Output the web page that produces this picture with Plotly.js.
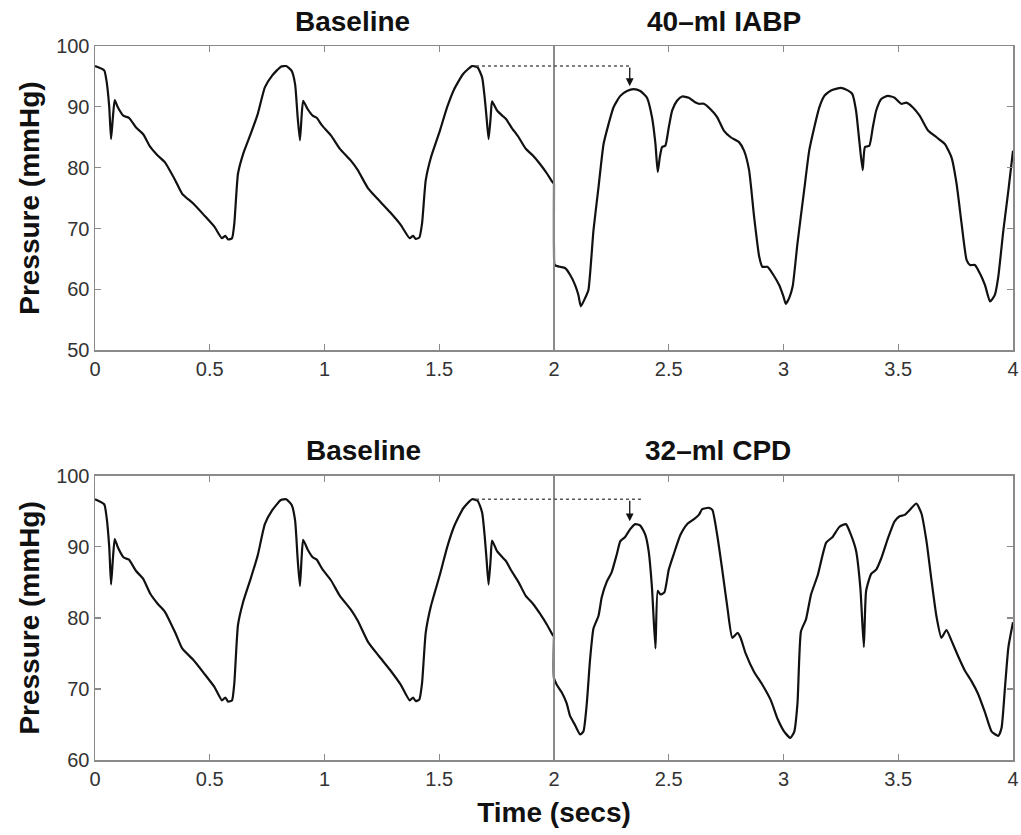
<!DOCTYPE html>
<html>
<head>
<meta charset="utf-8">
<script src="https://cdn.plot.ly/plotly-3.0.1.min.js"></script>
<style>html,body{margin:0;padding:0;background:#fff;}#chart{width:1021px;height:835px;}</style>
</head>
<body>
<div id="chart"></div>
<script>
// Baseline waveform (same recording shown in both panels), time in s, pressure in mmHg
const baseTime = [0,0.04,0.05,0.062,0.07,0.078,0.086,0.1,0.125,0.148,0.179,0.21,0.241,0.273,0.304,0.35,0.38,0.428,0.475,0.52,0.553,0.568,0.58,0.597,0.607,0.623,0.646,0.678,0.709,0.74,0.771,0.81,0.833,0.857,0.872,0.883,0.893,0.9,0.907,0.927,0.95,0.966,0.99,1.028,1.067,1.114,1.145,1.19,1.238,1.285,1.332,1.371,1.386,1.397,1.413,1.425,1.441,1.464,1.503,1.534,1.565,1.604,1.643,1.667,1.687,1.698,1.706,1.715,1.724,1.73,1.752,1.776,1.791,1.815,1.846,1.877,1.908,1.939,1.97,1.994,2.0];
const basePressure = [96.7,96.0,94.3,90.0,84.7,88.3,91.1,89.9,88.5,88.2,86.6,85.5,83.4,82.0,80.9,77.9,75.7,74.1,72.2,70.3,68.4,68.8,68.2,68.4,70.8,79.0,82.3,85.5,88.8,93.2,95.1,96.6,96.7,95.9,93.7,88.3,84.5,88.3,91.0,89.6,88.5,88.2,86.9,85.3,83.1,81.2,79.6,76.6,74.6,72.7,70.6,68.4,68.8,68.3,68.5,70.8,77.9,81.7,86.1,89.9,92.9,95.4,96.7,96.5,94.8,91.5,88.3,84.7,88.3,90.9,89.4,88.5,88.0,86.6,85.0,83.1,82.0,80.6,79.0,77.6,77.4];

// 40-ml IABP
const iabpTime = [2.0,2.0,2.003,2.026,2.048,2.07,2.092,2.106,2.117,2.136,2.15,2.172,2.194,2.216,2.238,2.259,2.289,2.318,2.347,2.376,2.405,2.427,2.442,2.452,2.461,2.471,2.485,2.5,2.515,2.536,2.558,2.587,2.617,2.631,2.653,2.682,2.711,2.74,2.77,2.806,2.828,2.85,2.872,2.894,2.908,2.93,2.952,2.981,3.0,3.01,3.025,3.04,3.061,3.09,3.112,3.134,3.156,3.178,3.207,3.25,3.28,3.3,3.316,3.33,3.345,3.355,3.374,3.389,3.404,3.426,3.455,3.484,3.513,3.535,3.564,3.594,3.63,3.667,3.703,3.732,3.754,3.776,3.798,3.813,3.834,3.856,3.878,3.9,3.921,3.936,3.958,3.98,4.0];
const iabpPressure = [77.4,66.5,64.0,63.7,63.5,62.4,60.7,59.1,57.2,58.6,59.9,69.7,76.8,83.9,87.2,89.9,91.8,92.6,92.9,92.6,91.5,88.3,83.9,79.3,81.7,83.4,83.6,86.6,89.4,91.0,91.7,91.5,90.7,90.5,90.5,89.6,88.3,86.1,85.0,84.2,82.8,79.6,71.9,65.4,63.7,63.7,62.6,60.7,58.8,57.6,58.6,60.5,67.6,76.3,82.8,86.6,89.9,91.8,92.7,93.1,92.7,92.1,89.4,84.5,79.6,83.4,83.6,86.6,89.4,91.3,91.8,91.5,90.5,90.7,89.9,88.5,86.1,85.0,83.9,81.7,77.4,70.8,64.8,64.0,64.0,62.6,60.7,58.0,59.1,62.1,69.7,76.3,82.8];

// 32-ml CPD
const cpdTime = [2.0,2.0,2.012,2.034,2.055,2.07,2.092,2.114,2.128,2.143,2.157,2.172,2.194,2.208,2.23,2.251,2.274,2.289,2.31,2.332,2.354,2.376,2.398,2.412,2.427,2.442,2.452,2.464,2.481,2.5,2.522,2.551,2.58,2.61,2.631,2.646,2.675,2.69,2.711,2.733,2.755,2.777,2.8,2.813,2.835,2.872,2.908,2.945,2.974,3.003,3.03,3.047,3.061,3.076,3.098,3.12,3.149,3.186,3.214,3.243,3.272,3.294,3.316,3.335,3.35,3.36,3.382,3.404,3.426,3.455,3.484,3.506,3.528,3.55,3.579,3.601,3.623,3.644,3.666,3.688,3.71,3.732,3.761,3.79,3.819,3.848,3.878,3.907,3.936,3.95,3.965,3.98,4.0];
const cpdPressure = [77.4,71.5,70.6,69.5,68.0,66.2,64.9,63.6,64.0,68.0,74.1,78.5,80.3,82.9,85.1,86.4,89.0,90.8,91.4,92.5,93.2,93.0,91.7,89.5,84.2,75.7,83.8,83.3,83.6,86.8,89.0,91.7,93.2,93.9,94.5,95.3,95.5,95.2,91.7,86.8,81.6,77.2,77.9,77.2,75.0,72.4,70.6,68.4,65.8,64.0,63.1,64.0,68.0,78.1,79.8,83.3,86.0,90.6,91.4,92.8,93.2,91.7,89.5,84.2,75.9,83.8,86.2,86.8,88.4,91.2,93.6,94.3,94.5,95.2,96.1,94.7,90.8,85.5,80.3,77.2,78.3,76.8,74.6,72.6,71.1,69.3,66.7,64.0,63.4,64.5,70.2,75.9,79.4];

const xTicks = [0,0.5,1,1.5,2,2.5,3,3.5,4];
const xTickText = ['0','0.5','1','1.5','2','2.5','3','3.5','4'];
const topYTicks = [50,60,70,80,90,100];
const bottomYTicks = [60,70,80,90,100];
const panelTitles = [['Baseline','40\u2013ml IABP'],['Baseline','32\u2013ml CPD']];
const referencePeak = 96.7;

const FONT = 'Liberation Sans, Arial, Helvetica, sans-serif';
const lineStyle = {color:'#111', width:2.2, shape:'spline', smoothing:0.5};
const data = [
  {x: baseTime, y: basePressure, xaxis:'x', yaxis:'y', mode:'lines', line:lineStyle},
  {x: iabpTime, y: iabpPressure, xaxis:'x', yaxis:'y', mode:'lines', line:lineStyle},
  {x: baseTime, y: basePressure, xaxis:'x2', yaxis:'y2', mode:'lines', line:lineStyle},
  {x: cpdTime, y: cpdPressure, xaxis:'x2', yaxis:'y2', mode:'lines', line:lineStyle}
];

const tickFont = {family:FONT, size:20, color:'#333'};
const titleFont = {family:FONT, size:28, color:'#111', weight:'bold'};
const axisCommon = {
  showline:true, mirror:'ticks', linecolor:'#8a8a8a', linewidth:1.5,
  ticks:'inside', ticklen:6, tickcolor:'#8a8a8a', tickwidth:1.2,
  showgrid:false, zeroline:false, tickfont:tickFont
};
const yTitle = {text:'Pressure (mmHg)', font:titleFont, standoff:8};

const layout = {
  width:1021, height:835, showlegend:false,
  paper_bgcolor:'#fff', plot_bgcolor:'#fff',
  margin:{l:95, r:8, t:46, b:75},
  xaxis: Object.assign({}, axisCommon, {domain:[0,1], anchor:'y', range:[0,4], tickvals:xTicks, ticktext:xTickText}),
  yaxis: Object.assign({}, axisCommon, {domain:[0.574,1], anchor:'x', range:[50,100], tickvals:topYTicks, title:yTitle}),
  xaxis2: Object.assign({}, axisCommon, {domain:[0,1], anchor:'y2', range:[0,4], tickvals:xTicks, ticktext:xTickText,
    title:{text:'Time (secs)', font:titleFont, standoff:14}}),
  yaxis2: Object.assign({}, axisCommon, {domain:[0,0.398], anchor:'x2', range:[60,100], tickvals:bottomYTicks, title:yTitle}),
  shapes: [
    {type:'line', xref:'x', yref:'paper', x0:2, x1:2, y0:0.574, y1:1, line:{color:'#8a8a8a', width:2}},
    {type:'line', xref:'x2', yref:'paper', x0:2, x1:2, y0:0, y1:0.398, line:{color:'#8a8a8a', width:2}},
    {type:'line', xref:'x', yref:'y', x0:1.66, x1:2.34, y0:referencePeak, y1:referencePeak, line:{color:'#555', width:1.5, dash:'dot'}},
    {type:'line', xref:'x2', yref:'y2', x0:1.66, x1:2.39, y0:referencePeak, y1:referencePeak, line:{color:'#555', width:1.5, dash:'dot'}}
  ],
  annotations: [
    {xref:'x', yref:'y', x:2.33, y:93.4, axref:'x', ayref:'y', ax:2.33, ay:referencePeak, showarrow:true, arrowhead:2, arrowsize:1.2, arrowwidth:1.3, arrowcolor:'#111', text:''},
    {xref:'x2', yref:'y2', x:2.33, y:93.6, axref:'x2', ayref:'y2', ax:2.33, ay:referencePeak, showarrow:true, arrowhead:2, arrowsize:1.2, arrowwidth:1.3, arrowcolor:'#111', text:''},
    {xref:'x', yref:'paper', x:1.12, y:1, yshift:25, yanchor:'middle', showarrow:false, text:panelTitles[0][0], font:titleFont},
    {xref:'x', yref:'paper', x:2.74, y:1, yshift:25, yanchor:'middle', showarrow:false, text:panelTitles[0][1], font:titleFont},
    {xref:'x2', yref:'paper', x:1.168, y:0.398, yshift:25, yanchor:'middle', showarrow:false, text:panelTitles[1][0], font:titleFont},
    {xref:'x2', yref:'paper', x:2.715, y:0.398, yshift:25, yanchor:'middle', showarrow:false, text:panelTitles[1][1], font:titleFont}
  ]
};

Plotly.newPlot('chart', data, layout, {staticPlot:true, displayModeBar:false});
</script>
</body>
</html>
